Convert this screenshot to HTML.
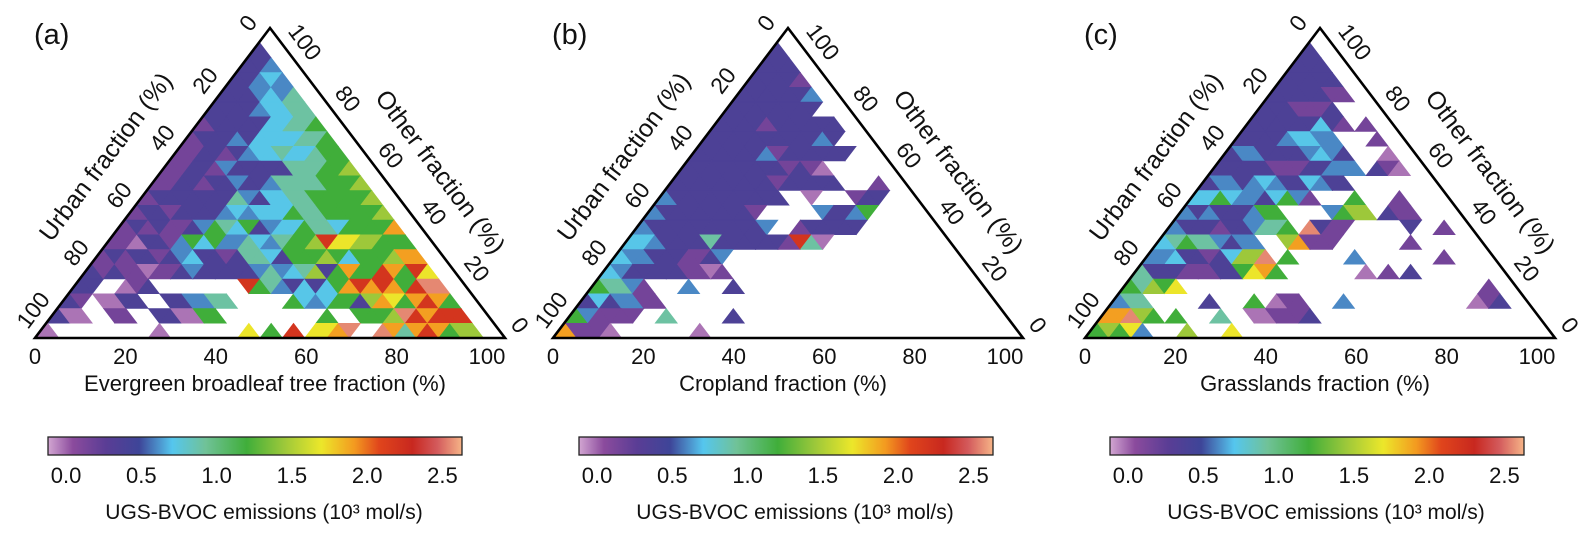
<!DOCTYPE html>
<html><head><meta charset="utf-8"><style>
body{margin:0;background:#fff}
svg{display:block}
text{font-family:"Liberation Sans",Arial,sans-serif;fill:#111}
</style></head><body>
<svg id="chart" width="1591" height="540" viewBox="0 0 1591 540" xmlns="http://www.w3.org/2000/svg">
<defs>
<linearGradient id="cbgrad" x1="0" x2="1" y1="0" y2="0"></linearGradient>
</defs>
<g id="panels"></g>
</svg>
<script>
// ---- Data: per-panel cell codes, row r (top→bottom) has 2r+1 cells, '.' = no data ----
const codeValues = {p:-0.03,v:0.15,i:0.37,b:0.6,c:0.72,t:0.9,g:1.2,y:1.45,Y:1.7,o:1.9,r:2.2,s:2.55};
const panelLetters = ["(a)","(b)","(c)"];
const xTitles = ["Evergreen broadleaf tree fraction (%)","Cropland fraction (%)","Grasslands fraction (%)"];
const tickLabels = ["0","20","40","60","80","100"];
const cbTicks = [0.0,0.5,1.0,1.5,2.0,2.5];
const cbTickLabels = ["0.0","0.5","1.0","1.5","2.0","2.5"];
const rowsA = [
"i","iib","iibcb","iiibcbt","iiiibcctt","viiiiiccttg","viiibiccccttg","vviivibcctcctgg",
"vviivbiiiiitttggy","vviiviibiibttttgggy","viiiiiiitbiccttgggggy","viiviiiibcbcccgttgggggy",
"vivivvibgtcgibccgttcggggo","vvpiivbgcgbbtcbtggyrYYyyggg","viviivibciivittcigggygcgggyoo",
"ivivvpvvibiiiiibtbctyigoggrogrY","ii..pvi........rgtbicicgororogrss",
"iv.ppii..iibbtt.....gcbcggiyoYgorog","ipp..vv..iippgg.........g..gggysrorrr",
"p.........p.......Y.g.r.YYos..sotorogyy"];
const rowsB = [
"i","iii","iiiiv","iiiiiib","iiiiiiii.","iiiiviiiiii","iiiiiiiiiibi.","iiiiiibviiiiii.",
"iiiiiiiiivivp....","iiiiiiiiiviiiii...v","biiiiiiiiii..p...vii.","biiiiiiiiv.....biibg...",
"biiiiiiiiiib..viiiii.....","ccbiiiitiiiiiivrtp.........","cbbiiivvib...................",
"cbiiiiivvpv....................","gttbv...b...i....................",
"icibbvv............................","gbvvvv..t.....i......................",
"ovvvp.......p.........................."];
const rowsC = [
"i","iii","iiiii","iiiiivv","iiivvvi..","iiiiiiciv.v","iiiibccbb...v","ibbiiiibcbi...p",
"iiiiivvviibbb.ivp","ibbibcbiicbii......","ccgcbbicgbv...g...v..","bibiiibgg....bgyy.ivv..",
"biiiviibttg.sivv.....i..v","ctgttbibb..yovvv......v....","bbciivicyys.g.....b.......v..",
"tiiivvviigYog.......p.v.i......","gtygY...........................v",
"btt.....i...g.pvv...b...........pvi","oosyg.g...t..ppvvvi..................",
"gygYb...y...Y.........................."];
const panelRows = [rowsA,rowsB,rowsC];

// ---- colormap ----
const cmapStops = [[0,"#d2a6d2"],[0.06,"#8b4b9d"],[0.14,"#5a3d95"],[0.22,"#3e4598"],[0.30,"#55c6ee"],[0.38,"#70c298"],[0.48,"#40ae3a"],[0.57,"#9cc83a"],[0.66,"#ece72a"],[0.74,"#f39a20"],[0.80,"#e0451c"],[0.88,"#c8281f"],[0.94,"#d35a5c"],[1,"#f6b487"]];
const vmin=-0.12, vmax=2.63;
function hex(c){return [1,3,5].map(i=>parseInt(c.substr(i,2),16));}
function cmap(v){
  let f=(v-vmin)/(vmax-vmin); f=Math.max(0,Math.min(1,f));
  for(let i=1;i<cmapStops.length;i++){
    if(f<=cmapStops[i][0]){
      const [f0,c0]=cmapStops[i-1],[f1,c1]=cmapStops[i];
      const t=(f-f0)/(f1-f0), a=hex(c0), b=hex(c1);
      return "rgb("+a.map((x,j)=>Math.round(x+(b[j]-x)*t)).join(",")+")";
    }
  }
  return cmapStops[cmapStops.length-1][1];
}
const NS="http://www.w3.org/2000/svg";
function el(tag,attrs,parent){const e=document.createElementNS(NS,tag);for(const k in attrs)e.setAttribute(k,attrs[k]);parent.appendChild(e);return e;}
const grad=document.getElementById("cbgrad");
cmapStops.forEach(s=>el("stop",{offset:s[0],"stop-color":s[1]},grad));

const root=document.getElementById("panels");
const offsets=[0,518,1050], cbOff=[0,531,1062];
const N=20, AX=260, AY=43, rowH=14.75, half=11.175;
const panelNames=["evergreen","cropland","grasslands"];

panelRows.forEach((rows,pi)=>{
  const off=offsets[pi];
  const g=el("g",{},root);
  
  
  const cells=el("g",{},g);
  
  
  rows.forEach((row,r)=>{
    const yt=AY+r*rowH, yb=yt+rowH, tl=AX+off-r*half, bl=AX+off-(r+1)*half;
    for(let k=0;k<row.length;k++){
      const ch=row[k]; if(ch==='.'||!(ch in codeValues)) continue;
      const j=Math.floor(k/2); let pts;
      if(k%2===0) pts=[[bl+2*j*half,yb],[bl+2*j*half+2*half,yb],[tl+2*j*half,yt]];
      else pts=[[tl+2*j*half,yt],[tl+2*j*half+2*half,yt],[bl+2*j*half+2*half,yb]];
      const col=cmap(codeValues[ch]);
      const p=el("polygon",{points:pts.map(q=>q.join(",")).join(" "),fill:col,stroke:col,"stroke-width":0.6},cells);
      
      
    }
  });
  // frame
  const fr=el("polygon",{points:`${35+off},338 ${505+off},338 ${270+off},28`,fill:"none",stroke:"#000","stroke-width":2.6,"stroke-linejoin":"miter"},g);
  
  
  // panel letter
  const pl=el("text",{x:34+off,y:44,"font-size":29},g); pl.textContent=panelLetters[pi];
  
  
  // bottom ticks
  tickLabels.forEach((t,i)=>{
    const tx=el("text",{x:35+off+i/5*452,y:364,"font-size":22,"text-anchor":"middle"},g); tx.textContent=t;
    
    
  });
  const xt=el("text",{x:265+off,y:391,"font-size":22,"text-anchor":"middle"},g); xt.textContent=xTitles[pi];
  
  
  // left (urban) ticks
  tickLabels.forEach((t,i)=>{
    const cx=248-i/5*215+off, cy=23+i/5*287;
    const tx=el("text",{x:cx,y:cy,"font-size":23,"text-anchor":"middle","dominant-baseline":"central",transform:`rotate(-53 ${cx} ${cy})`},g); tx.textContent=t;
    
    
  });
  const ut=el("text",{x:106+off,y:157,"font-size":25,"text-anchor":"middle","dominant-baseline":"central",transform:`rotate(-53 ${106+off} 157)`},g); ut.textContent="Urban fraction (%)";
  
  
  // right (other) ticks: 100 at top, 0 at bottom
  tickLabels.slice().reverse().forEach((t,i)=>{
    const cx=305+i/5*215+off, cy=42+i/5*283;
    const tx=el("text",{x:cx,y:cy,"font-size":23,"text-anchor":"middle","dominant-baseline":"central",transform:`rotate(53 ${cx} ${cy})`},g); tx.textContent=t;
    
    
  });
  const ot=el("text",{x:440+off,y:172,"font-size":25,"text-anchor":"middle","dominant-baseline":"central",transform:`rotate(53 ${440+off} 172)`},g); ot.textContent="Other fraction (%)";
  
  
  // colorbar
  const co=cbOff[pi], bx=48+co, bw=414;
  const cb=el("rect",{x:bx,y:437,width:bw,height:18,fill:"url(#cbgrad)",stroke:"#222","stroke-width":1.3},g);
  
  
  cbTicks.forEach((v,i)=>{
    const tx=el("text",{x:bx+(v-vmin)/(vmax-vmin)*bw,y:483,"font-size":22,"text-anchor":"middle"},g); tx.textContent=cbTickLabels[i];
    
    
  });
  const ct=el("text",{x:264+co,y:519,"font-size":21,"text-anchor":"middle"},g); ct.textContent="UGS-BVOC emissions (10³ mol/s)";
  
  
});
</script>
</body></html>
